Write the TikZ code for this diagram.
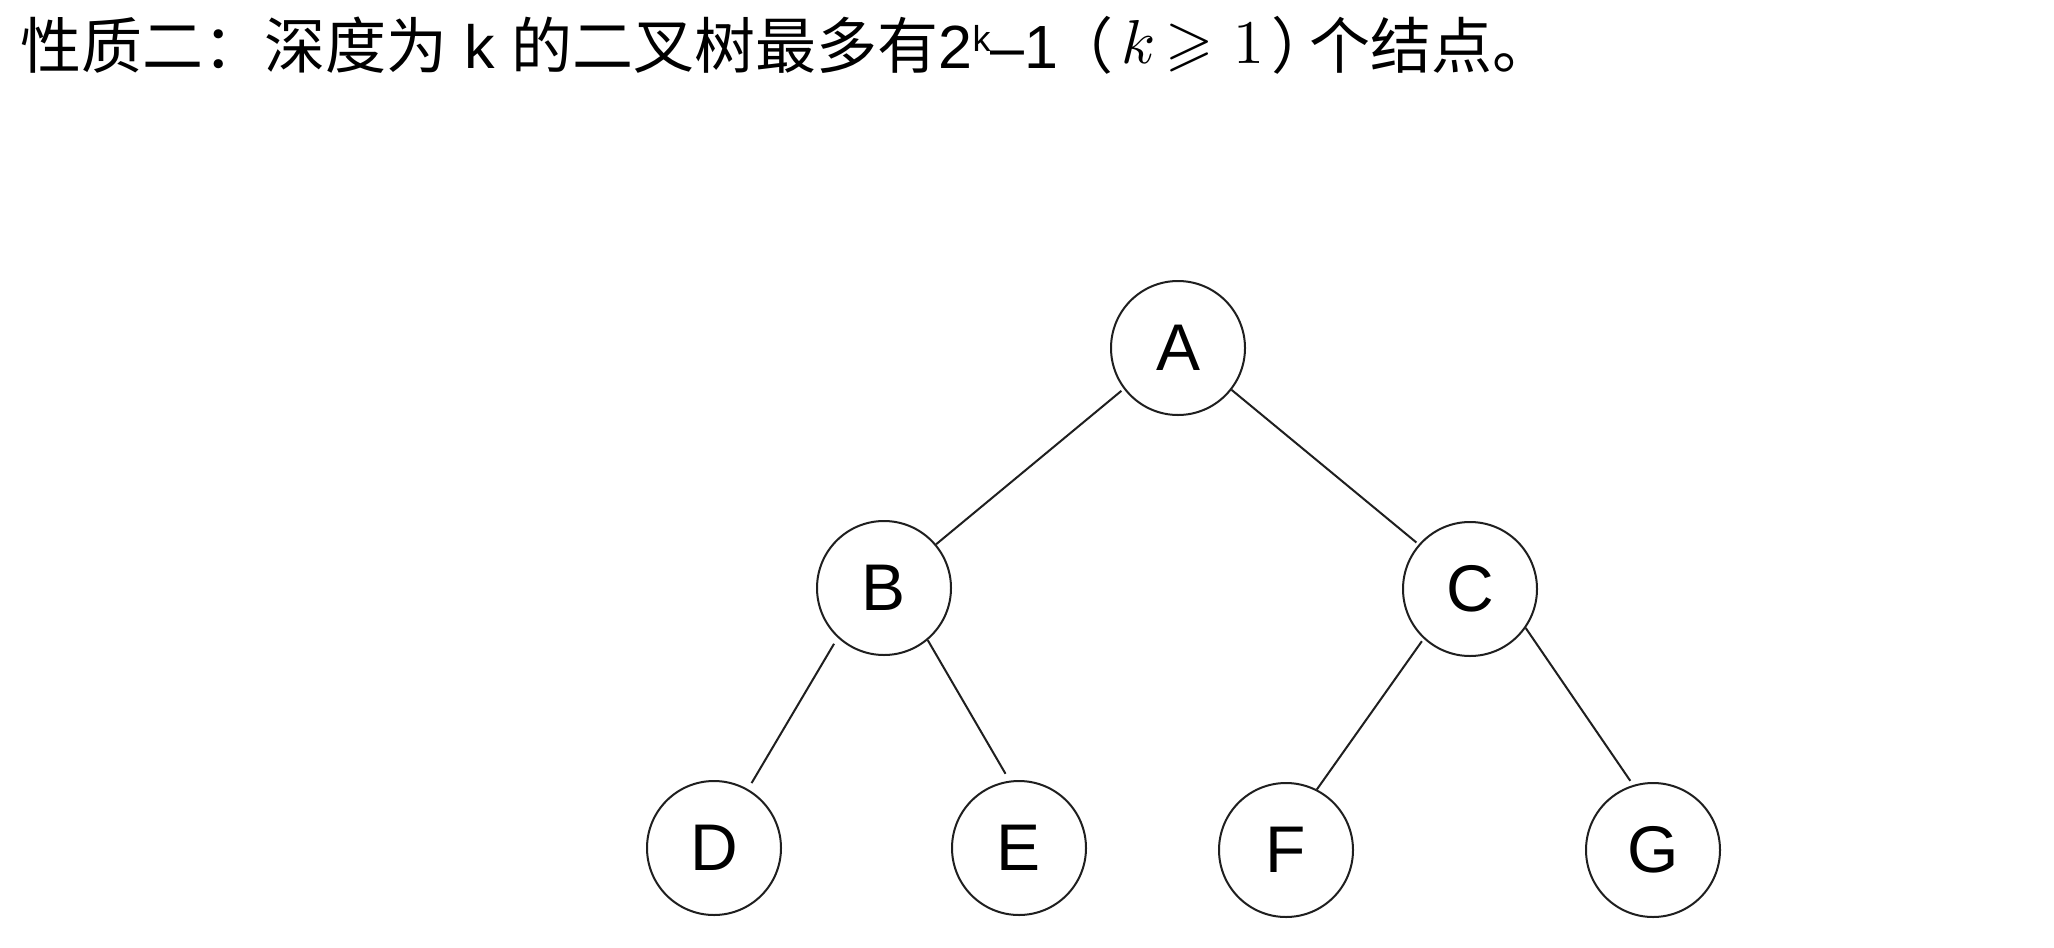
\documentclass[tikz,border=0pt]{standalone}
\usepackage{fontspec}
\setmainfont{Liberation Sans}
\newfontfamily\cjk{Noto Sans CJK SC}
\newfontfamily\cjkp[RawFeature=+palt]{Noto Sans CJK SC}
\font\mymathk=cmmi10 at 62pt
\font\mymathr=cmr10 at 62pt
\font\mymathsym=msam10 at 62pt
\begin{document}
\begin{tikzpicture}[x=1pt,y=-1pt,
  tn/.style={circle,draw=black!88,line width=2pt,minimum size=134pt,inner sep=0pt,
    font=\fontsize{66}{66}\selectfont},
  edge/.style={line width=2pt,draw=black!88}]
\useasboundingbox[fill=white] (0,0) rectangle (2054,948);
\node[anchor=base west,inner sep=0pt] (title) at (20,68) {\fontsize{61}{61}\selectfont
  {\cjk 性质二：深度为} k {\cjk 的二叉树最多有}2\raisebox{17pt}{\fontsize{36}{36}\selectfont k}–1\hspace{22pt}{\cjkp （}\hspace{11pt}\raisebox{5pt}{{\mymathk k}\hspace{11pt}{\mymathsym\char"3E}\hspace{20pt}{\mymathr 1}}\hspace{9pt}{\cjkp ）}\hspace{6pt}{\cjk 个结点。}};
\node[tn] (A) at (1178,348) {A};
\node[tn] (B) at (884,588) {B};
\node[tn] (C) at (1470,589) {C};
\node[tn] (D) at (714,848) {D};
\node[tn] (E) at (1019,848) {E};
\node[tn] (F) at (1286,850) {F};
\node[tn] (G) at (1653,850) {G};
\draw[edge,shorten <=3pt] (A.217.8) -- (B.40.7);
\draw[edge,shorten >=3pt] (A.-38) -- (C.139.4);
\draw[edge,shorten <=7pt,shorten >=7pt] (B.227.8) -- (D.60.7);
\draw[edge,shorten >=8pt] (B.-50.2) -- (E.98.1);
\draw[edge,shorten <=3pt] (C.227.5) -- (F.63.1);
\draw[edge,shorten >=5pt] (C.-35.9) -- (G.107.8);
\end{tikzpicture}
\end{document}
